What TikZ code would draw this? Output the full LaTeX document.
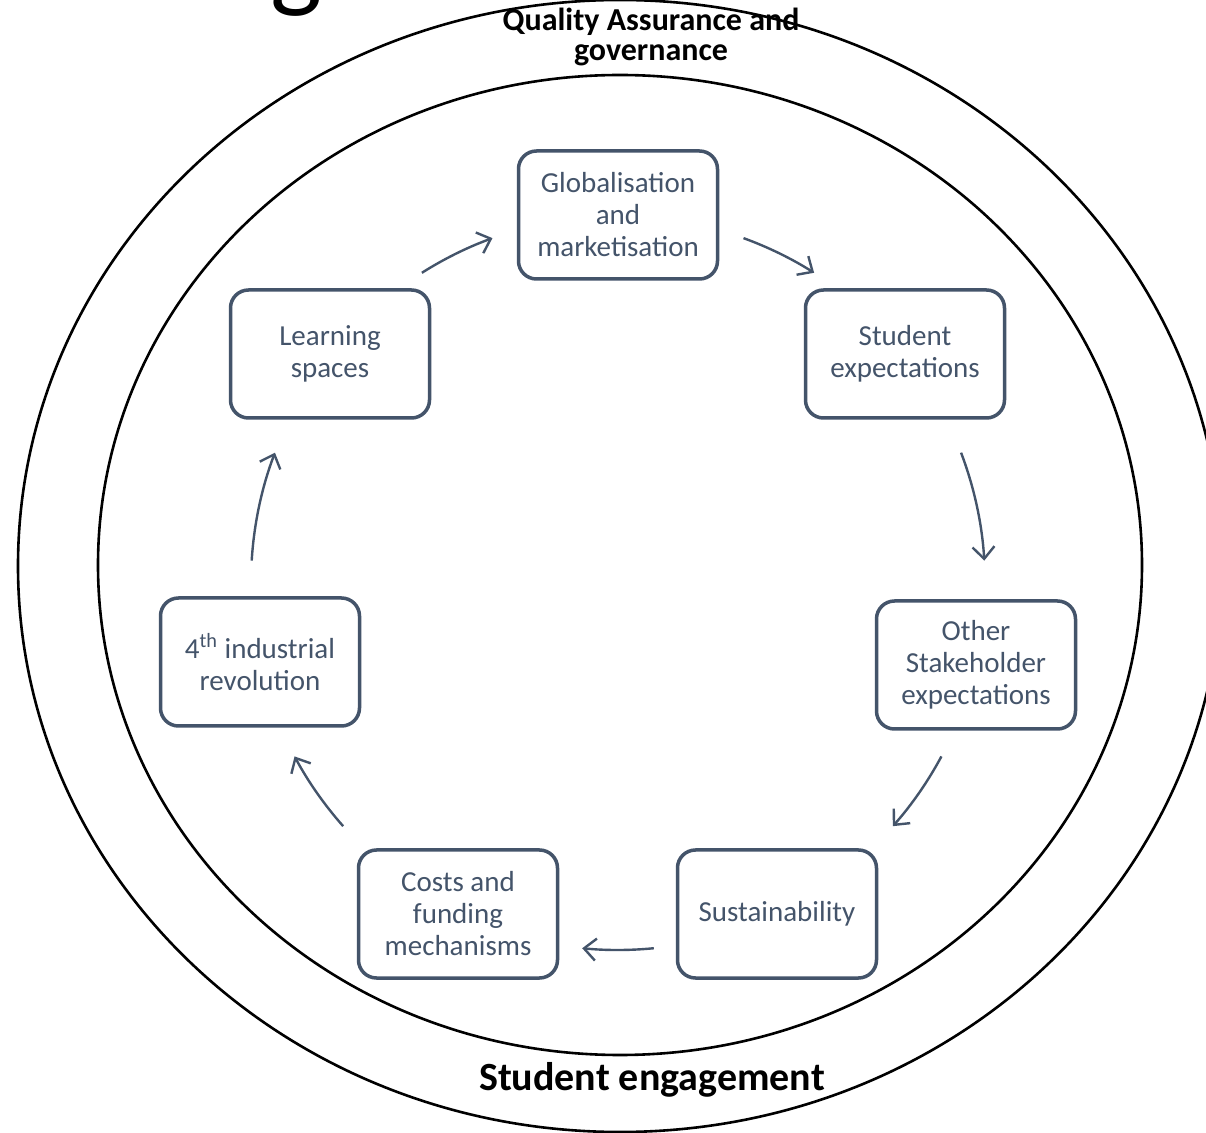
\documentclass[tikz,border=0pt]{standalone}
\usepackage{fontspec}
\setmainfont{Carlito}
\usetikzlibrary{arrows.meta,calc}
\definecolor{slate}{HTML}{44546A}
\tikzset{
  box/.style={draw=slate, line width=1.75pt, rounded corners=9pt, minimum width=99.5pt,
    minimum height=64pt, align=center, text=slate, fill=white, inner sep=2pt,
    font=\fontsize{14.5}{16}\selectfont},
  arr/.style={draw=slate, line width=1.2pt, -{Straight Barb[length=6pt,width=11pt]}},
  ring/.style={draw=black, line width=1.3pt},
  lbl/.style={font=\bfseries\fontsize{16}{15}\selectfont, align=center},
  biglbl/.style={font=\bfseries\fontsize{20}{22}\selectfont}
}
\begin{document}
\begin{tikzpicture}[x=0.5pt,y=-0.5pt]
\useasboundingbox (0,0) rectangle (1206,1133);
\clip (0,0) rectangle (1206,1133);
\fill[white] (0,0) rectangle (1206,1133);
% cropped title glyph
\node[font=\fontsize{55}{55}\selectfont, anchor=base, inner sep=0pt] (gl) at (296,-2) {g};
% rings
\draw[ring] (620,566) ellipse [x radius=602, y radius=566];
\draw[ring] (620,565) ellipse [x radius=522, y radius=490];
\node[lbl] (qa) at (651,37) {Quality Assurance and\\governance};
\node[biglbl] (se) at (652,1080) {Student engagement};
% boxes
\node[box] (glob) at (618,215) {Globalisation\\and\\marketisation};
\node[box] (stud) at (905,354) {Student\\expectations};
\node[box] (oth) at (976,665) {Other\\Stakeholder\\expectations};
\node[box] (sus) at (777,914) {Sustainability};
\node[box] (cost) at (458,914) {Costs and\\funding\\mechanisms};
\node[box] (ind) at (260,662) {4\textsuperscript{th} industrial\\revolution};
\node[box] (learn) at (330,354) {Learning\\spaces};
% arrows on circle
\coordinate (C) at (618,583);
\coordinate (a1) at ($(C)+(-70:367)$);
\coordinate (a2) at ($(C)+(-20.8:367)$);
\coordinate (a3) at ($(C)+(28.2:367)$);
\coordinate (a4) at ($(C)+(84.4:367)$);
\coordinate (a5) at ($(C)+(138.5:367)$);
\coordinate (a6) at ($(C)+(-176.5:367)$);
\coordinate (a7) at ($(C)+(-122.3:367)$);
\draw[arr] (a1) arc[start angle=-70, end angle=-57.7, radius=367];
\draw[arr] (a2) arc[start angle=-20.8, end angle=-3.5, radius=367];
\draw[arr] (a3) arc[start angle=28.2, end angle=41.5, radius=367];
\draw[arr] (a4) arc[start angle=84.4, end angle=95.6, radius=367];
\draw[arr] (a5) arc[start angle=138.5, end angle=151.8, radius=367];
\draw[arr] (a6) arc[start angle=-176.5, end angle=-159.2, radius=367];
\draw[arr] (a7) arc[start angle=-122.3, end angle=-110, radius=367];
\end{tikzpicture}
\end{document}
